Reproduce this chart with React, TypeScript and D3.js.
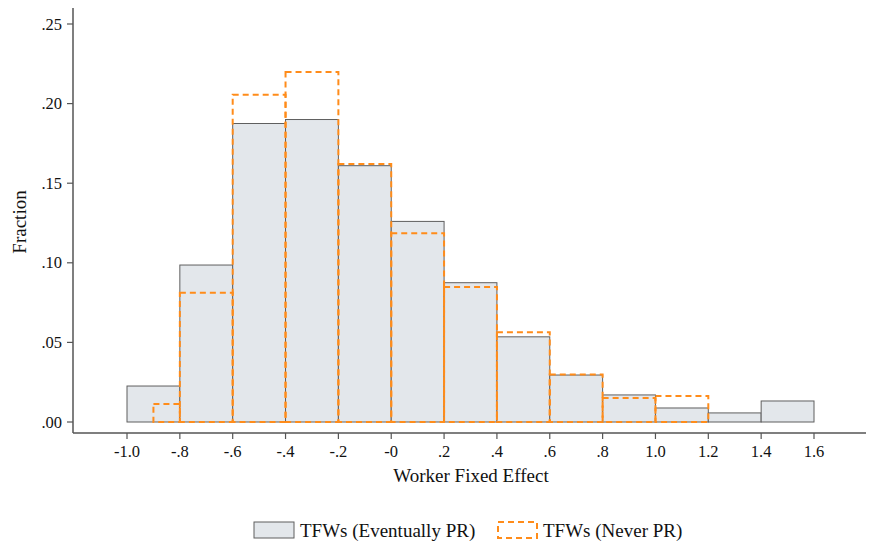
import React from "react";
import * as d3 from "d3";

const grayEdges = [-1.0, -0.8, -0.6, -0.4, -0.2, 0.0, 0.2, 0.4, 0.6, 0.8, 1.0, 1.2, 1.4, 1.6];
const grayValues = [0.0226, 0.0986, 0.1875, 0.1900, 0.1610, 0.1260, 0.0875, 0.0535, 0.0295, 0.0170, 0.0088, 0.0057, 0.0132];

const orangeEdges = [-0.9, -0.8, -0.6, -0.4, -0.2, 0.0, 0.2, 0.4, 0.6, 0.8, 1.0, 1.2];
const orangeValues = [0.0113, 0.0812, 0.2055, 0.2198, 0.1620, 0.1185, 0.0848, 0.0563, 0.0298, 0.0150, 0.0163];

const xTicks = [-1.0, -0.8, -0.6, -0.4, -0.2, 0.0, 0.2, 0.4, 0.6, 0.8, 1.0, 1.2, 1.4, 1.6];
const xTickLabels = ["-1.0", "-.8", "-.6", "-.4", "-.2", "-0", ".2", ".4", ".6", ".8", "1.0", "1.2", "1.4", "1.6"];
const yTicks = [0, 0.05, 0.1, 0.15, 0.2, 0.25];
const yTickLabels = [".00", ".05", ".10", ".15", ".20", ".25"];

const seriesNames = ["TFWs (Eventually PR)", "TFWs (Never PR)"];

const W = 871;
const H = 544;
const FONT = "'Liberation Serif', 'Times New Roman', serif";
const ORANGE = "#ff8c1a";
const GRAY_FILL = "#e3e7eb";
const GRAY_STROKE = "#5f5f5f";
const TICK_FS = 16.5;
const TITLE_FS = 19;

export default function App() {
  const x = d3.scaleLinear().domain([-1.0, 1.6]).range([127, 814]);
  const y = d3.scaleLinear().domain([0, 0.25]).range([422, 24]);
  const axisLeft = 73;
  const axisBottom = 433;
  const axisRight = 866;
  const axisTop = 8;

  return (
    <svg width={W} height={H} style={{ position: "absolute", left: 0, top: 0, background: "#fff" }}>
      <rect x={0} y={0} width={W} height={H} fill="#fff" />
      {grayValues.map((v, i) => (
        <rect
          key={"g" + i}
          x={x(grayEdges[i])}
          y={y(v)}
          width={x(grayEdges[i + 1]) - x(grayEdges[i])}
          height={y(0) - y(v)}
          fill={GRAY_FILL}
          stroke={GRAY_STROKE}
          strokeWidth={1}
        />
      ))}
      {orangeValues.map((v, i) => (
        <rect
          key={"o" + i}
          x={x(orangeEdges[i])}
          y={y(v)}
          width={x(orangeEdges[i + 1]) - x(orangeEdges[i])}
          height={y(0) - y(v)}
          fill="none"
          stroke={ORANGE}
          strokeWidth={2}
          strokeDasharray="6,4"
        />
      ))}
      <line x1={axisLeft} y1={axisTop} x2={axisLeft} y2={axisBottom} stroke="#555" strokeWidth={1.5} />
      <line x1={axisLeft} y1={axisBottom} x2={axisRight} y2={axisBottom} stroke="#555" strokeWidth={1.5} />
      {yTicks.map((t, i) => (
        <g key={"yt" + i}>
          <line x1={axisLeft - 6} x2={axisLeft} y1={y(t)} y2={y(t)} stroke="#555" strokeWidth={1.2} />
          <text x={62} y={y(t) + 5.5} textAnchor="end" fontFamily={FONT} fontSize={TICK_FS} fill="#111">
            {yTickLabels[i]}
          </text>
        </g>
      ))}
      {xTicks.map((t, i) => (
        <g key={"xt" + i}>
          <line x1={x(t)} x2={x(t)} y1={axisBottom} y2={axisBottom + 6} stroke="#555" strokeWidth={1.2} />
          <text x={x(t)} y={457} textAnchor="middle" fontFamily={FONT} fontSize={TICK_FS} fill="#111">
            {xTickLabels[i]}
          </text>
        </g>
      ))}
      <text x={471} y={482} textAnchor="middle" fontFamily={FONT} fontSize={TITLE_FS} fill="#111">
        Worker Fixed Effect
      </text>
      <text
        transform={`translate(26,222) rotate(-90)`}
        textAnchor="middle"
        fontFamily={FONT}
        fontSize={TITLE_FS}
        fill="#111"
      >
        Fraction
      </text>
      <rect x={254} y={522} width={40} height={16} fill={GRAY_FILL} stroke={GRAY_STROKE} strokeWidth={1} />
      <text x={300} y={536.5} fontFamily={FONT} fontSize={TITLE_FS} fill="#111">{seriesNames[0]}</text>
      <rect x={498} y={522} width={39} height={16} fill="none" stroke={ORANGE} strokeWidth={2} strokeDasharray="6,4" />
      <text x={543} y={536.5} fontFamily={FONT} fontSize={TITLE_FS} fill="#111">{seriesNames[1]}</text>
    </svg>
  );
}
